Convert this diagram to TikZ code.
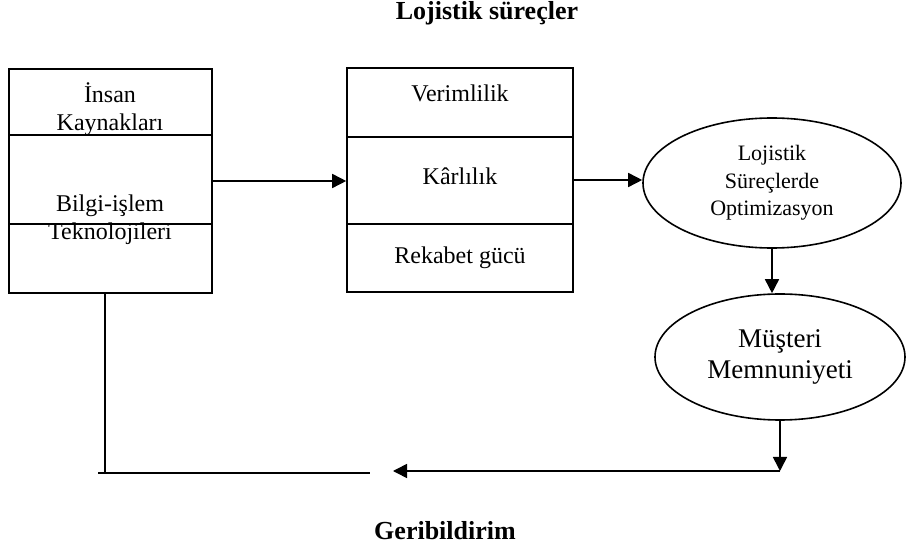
\documentclass[tikz,border=0pt]{standalone}
\usepackage{fontspec}
\setmainfont{Liberation Serif}
\usetikzlibrary{arrows.meta,shapes.geometric}

\tikzset{
  blk/.style={draw,inner sep=0pt},
  txt/.style={align=center,font=\fontsize{12}{14}\selectfont},
  ttl/.style={font=\fontsize{13}{15}\selectfont\bfseries},
  oval/.style={draw,ellipse,inner sep=0pt,align=center},
  arr/.style={-{Triangle[length=7pt,width=7pt]}}
}

\begin{document}
\begin{tikzpicture}[x=0.5pt,y=-0.5pt,line width=0.8pt]
  \useasboundingbox (0,0) rectangle (907,551);
  \node[ttl] (ust) at (487,13) {Lojistik süreçler};
  \node[ttl] (alt) at (445,531) {Geribildirim};
  % left box
  \node[blk,minimum width=101.5pt,minimum height=112pt] (kaynak) at (110.5,181) {};
  \draw (kaynak.west |- 0,135) -- (kaynak.east |- 0,135) (kaynak.west |- 0,224) -- (kaynak.east |- 0,224);
  \node[txt] (insan) at (110,109) {İnsan\\Kaynakları};
  \node[txt] (bilgi) at (110,220) {Bilgi-işlem\\Teknolojileri};
  % middle box
  \node[blk,minimum width=113pt,minimum height=112pt] (sonuc) at (460,180) {};
  \draw (sonuc.west |- 0,137) -- (sonuc.east |- 0,137) (sonuc.west |- 0,224) -- (sonuc.east |- 0,224);
  \node[txt] (verim) at (460,93) {Verimlilik};
  \node[txt] (kar) at (460,176) {Kârlılık};
  \node[txt] (rekabet) at (460,258) {Rekabet gücü};
  % ellipses
  \node[oval,minimum width=129pt,minimum height=65pt,font=\fontsize{11}{13.75}\selectfont] (optim) at (772,183) {Lojistik\\Süreçlerde\\Optimizasyon};
  \node[oval,minimum width=125pt,minimum height=63pt,font=\fontsize{13.5}{15.5}\selectfont] (musteri) at (780,357) {Müşteri\\Memnuniyeti};
  \coordinate (donus) at (780,471);
  \coordinate (ok) at (393,471);
  \coordinate (geri) at (105,473);
  \coordinate (gerisol) at (98,473);
  \coordinate (gerisag) at (370,473);
  \draw[arr] (kaynak.east) -- (kaynak.east -| sonuc.west);
  \draw[arr] (sonuc.east) -- (sonuc.east -| optim.west);
  \draw[arr] (optim.south) -- (optim.south |- musteri.north);
  \draw[arr] (musteri.south) -- (donus);
  \draw[arr] (donus) -- (ok);
  \draw (kaynak.south -| geri) -- (geri) (gerisol) -- (gerisag);
\end{tikzpicture}
\end{document}
